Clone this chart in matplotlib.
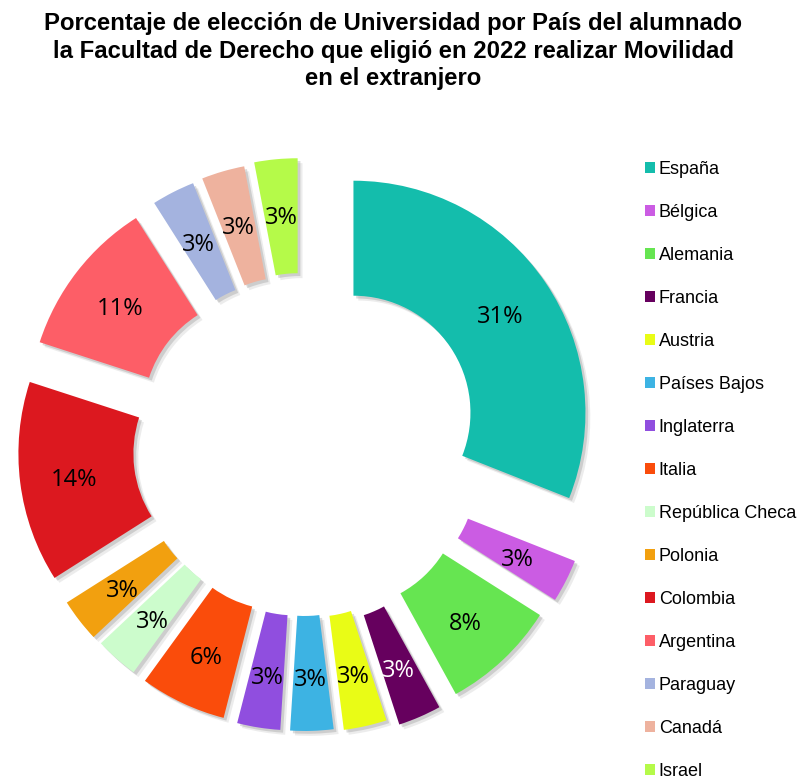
import matplotlib
matplotlib.use("Agg")
import matplotlib.pyplot as plt
from matplotlib import patheffects as pe
from matplotlib import transforms as mtransforms

countries = ["España", "Bélgica", "Alemania", "Francia", "Austria", "Países Bajos",
             "Inglaterra", "Italia", "República Checa", "Polonia", "Colombia",
             "Argentina", "Paraguay", "Canadá", "Israel"]
percent = [31, 3, 8, 3, 3, 3, 3, 6, 3, 3, 14, 11, 3, 3, 3]
colors = ["#14BDAC", "#CB5CE3", "#66E551", "#66005E", "#E9FC16", "#3DB3E3",
          "#904EDF", "#FA4C0B", "#CCFCCC", "#F2A00F", "#DC181F", "#FD5E67",
          "#A4B3DF", "#EEB29E", "#B5FA49"]
label_colors = ["black", "black", "black", "white", "black", "black", "black", "black",
                "black", "black", "black", "black", "black", "black", "black"]
# per-slice offset (pixels) as in the original exploded donut
explode_px = [61, 63, 60, 62, 54, 52, 52, 51, 50, 51, 53, 54, 54, 55, 57]

title = ("Porcentaje de elección de Universidad por País del alumnado\n"
         "la Facultad de Derecho que eligió en 2022 realizar Movilidad\n"
         "en el extranjero")

W, H = 803, 779
fig = plt.figure(figsize=(W / 100, H / 100), dpi=100)
ax = fig.add_axes([0, 0, 1, 1])

R_OUT = 232
RING = 115
center = (303, H - 447)

wedges, texts, autotexts = ax.pie(
    percent, colors=colors, explode=explode_px, startangle=90, counterclock=False,
    radius=R_OUT, center=center, autopct="%1.0f%%", pctdistance=0.765,
    wedgeprops=dict(width=RING, linewidth=0),
    textprops=dict(fontsize=17, family=["Open Sans", "DejaVu Sans"]))

for w in wedges:
    w.set_path_effects([
        pe.SimplePatchShadow(offset=(3.5, -3.5), shadow_rgbFace="#999999", alpha=0.18),
        pe.SimplePatchShadow(offset=(2, -2), shadow_rgbFace="#888888", alpha=0.3),
        pe.Normal()])
shift = mtransforms.ScaledTranslation(0, -4 / 100, fig.dpi_scale_trans)
for t, c in zip(autotexts, label_colors):
    t.set_color(c)
    t.set_transform(t.get_transform() + shift)

ax.set_xlim(0, W)
ax.set_ylim(0, H)
ax.set_aspect("equal")
ax.axis("off")

fig.text(393.5 / W, 1 - 12 / H, title, ha="center", va="top", fontsize=17.2,
         fontweight="bold", family=["Liberation Sans", "DejaVu Sans"], linespacing=1.26)

leg = fig.legend(wedges, countries, loc="upper left", bbox_to_anchor=(629 / W, 1 - 145 / H),
                 frameon=False, handlelength=0.55, handleheight=0.55,
                 handletextpad=0.2, labelspacing=1.44,
                 prop=dict(family=["Liberation Sans", "DejaVu Sans"], size=13))
for h in leg.legend_handles:
    h.set_path_effects([])

fig.savefig("out.png", dpi=100)
